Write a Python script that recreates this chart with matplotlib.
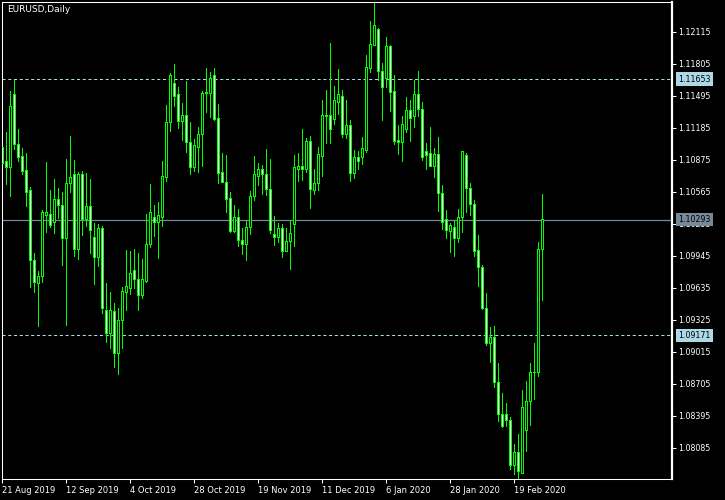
import matplotlib
matplotlib.use("Agg")
import matplotlib.pyplot as plt
from matplotlib.patches import Rectangle

# ---- data (EURUSD daily) ----
opens = [
    1.10996, 1.10851, 1.10793, 1.11500, 1.11025, 1.10909, 1.10773, 1.10570, 1.09901, 1.09669,
    1.09737, 1.10337, 1.10347, 1.10260, 1.10483, 1.10434, 1.10105, 1.10647, 1.10725, 1.10008,
    1.10734, 1.10298, 1.10415, 1.10124, 1.09930, 1.10202, 1.09417, 1.09194, 1.09407, 1.09000,
    1.09320, 1.09591, 1.09630, 1.09795, 1.09708, 1.09562, 1.09698, 1.10056, 1.10318, 1.10260,
    1.10318, 1.10705, 1.11238, 1.11616, 1.11500, 1.11248, 1.11306, 1.11044, 1.10793, 1.10996,
    1.11122, 1.11519, 1.11519, 1.11693, 1.11277, 1.10754, 1.10657, 1.10502, 1.10182, 1.10318,
    1.10095, 1.10056, 1.10221, 1.10521, 1.10715, 1.10783, 1.10734, 1.10589, 1.10153, 1.10124,
    1.10202, 1.09988, 1.10085, 1.10250, 1.10783, 1.10812, 1.10783, 1.11054, 1.10570, 1.10638,
    1.10909, 1.11296, 1.11306, 1.11267, 1.11432, 1.11490, 1.11122, 1.11209, 1.10744, 1.10899,
    1.10899, 1.10967, 1.11752, 1.11984, 1.12139, 1.11732, 1.11655, 1.11965, 1.11538, 1.11064,
    1.11044, 1.11170, 1.11345, 1.11287, 1.11500, 1.11364, 1.10948, 1.10938, 1.10812, 1.10928,
    1.10550, 1.10298, 1.10182, 1.10221, 1.10105, 1.10318, 1.10918, 1.10599, 1.10444, 1.09998,
    1.09833, 1.09427, 1.09097, 1.09155, 1.08719, 1.08409, 1.08400, 1.08351, 1.07906, 1.08041,
    1.07838, 1.08245, 1.08526, 1.08816, 1.08816, 1.10008]

highs = [
    1.11064, 1.11141, 1.11538, 1.11645, 1.11170, 1.10986, 1.10938, 1.10608, 1.09969, 1.09795,
    1.10386, 1.10851, 1.10579, 1.10686, 1.10599, 1.10560, 1.10880, 1.11103, 1.10870, 1.10754,
    1.10763, 1.10744, 1.10686, 1.10260, 1.10250, 1.10231, 1.09678, 1.09591, 1.09485, 1.09436,
    1.09640, 1.09998, 1.09988, 1.10008, 1.09969, 1.09911, 1.10347, 1.10638, 1.10434, 1.10463,
    1.10860, 1.11403, 1.11713, 1.11800, 1.11577, 1.11422, 1.11635, 1.11238, 1.11073, 1.11190,
    1.11538, 1.11761, 1.11723, 1.11761, 1.11413, 1.10938, 1.10918, 1.10560, 1.10434, 1.10395,
    1.10211, 1.10279, 1.10570, 1.10909, 1.10841, 1.10822, 1.10977, 1.10880, 1.10328, 1.10260,
    1.10250, 1.10211, 1.10289, 1.10918, 1.10938, 1.11170, 1.11083, 1.11103, 1.10783, 1.10996,
    1.11451, 1.11548, 1.12003, 1.11587, 1.11752, 1.11548, 1.11451, 1.11258, 1.10967, 1.10957,
    1.11093, 1.11887, 1.12217, 1.12391, 1.12149, 1.11810, 1.12062, 1.11984, 1.11693, 1.11209,
    1.11296, 1.11480, 1.11451, 1.11645, 1.11732, 1.11432, 1.11035, 1.11190, 1.10986, 1.11093,
    1.10628, 1.10386, 1.10260, 1.10289, 1.10395, 1.10957, 1.10938, 1.10647, 1.10483, 1.10143,
    1.09853, 1.09582, 1.09252, 1.09262, 1.08903, 1.08613, 1.08516, 1.08380, 1.08119, 1.08216,
    1.08642, 1.08729, 1.08903, 1.09097, 1.10076, 1.10541]

lows = [
    1.10812, 1.10628, 1.10512, 1.10967, 1.10851, 1.10725, 1.10415, 1.09630, 1.09582, 1.09252,
    1.09678, 1.10163, 1.10211, 1.10153, 1.10298, 1.09843, 1.09262, 1.10550, 1.09930, 1.09901,
    1.10134, 1.10221, 1.09959, 1.09659, 1.09833, 1.09378, 1.09097, 1.09039, 1.08855, 1.08787,
    1.09039, 1.09407, 1.09562, 1.09620, 1.09407, 1.09523, 1.09678, 1.10018, 1.10124, 1.09911,
    1.10221, 1.10657, 1.11141, 1.11383, 1.11170, 1.11054, 1.10938, 1.10725, 1.10754, 1.10744,
    1.10802, 1.11325, 1.11277, 1.11248, 1.10638, 1.10647, 1.10357, 1.10163, 1.10163, 1.10027,
    1.09950, 1.09892, 1.10143, 1.10473, 1.10618, 1.10531, 1.10521, 1.10153, 1.10037, 1.10066,
    1.09921, 1.09979, 1.09804, 1.10027, 1.10657, 1.10667, 1.10744, 1.10395, 1.10531, 1.10570,
    1.10705, 1.11025, 1.11025, 1.11209, 1.11306, 1.11083, 1.11073, 1.10657, 1.10686, 1.10773,
    1.10822, 1.10938, 1.11713, 1.11974, 1.11635, 1.11248, 1.11568, 1.11335, 1.11015, 1.10918,
    1.10851, 1.11132, 1.11044, 1.11180, 1.11287, 1.10860, 1.10773, 1.10802, 1.10696, 1.10366,
    1.10192, 1.10105, 1.09969, 1.09930, 1.10066, 1.10163, 1.10357, 1.10328, 1.09930, 1.09640,
    1.09417, 1.09068, 1.08903, 1.08661, 1.08332, 1.08274, 1.08283, 1.07867, 1.07818, 1.07780,
    1.07828, 1.08041, 1.08293, 1.08545, 1.08768, 1.09504]

closes = [
    1.10841, 1.10793, 1.11393, 1.11025, 1.10899, 1.10763, 1.10560, 1.09901, 1.09688, 1.09737,
    1.10357, 1.10357, 1.10240, 1.10483, 1.10434, 1.10105, 1.10647, 1.10705, 1.10008, 1.10734,
    1.10298, 1.10415, 1.10192, 1.09930, 1.10202, 1.09427, 1.09194, 1.09417, 1.09000, 1.09320,
    1.09601, 1.09640, 1.09775, 1.09708, 1.09562, 1.09717, 1.10056, 1.10366, 1.10260, 1.10328,
    1.10715, 1.11238, 1.11693, 1.11490, 1.11248, 1.11306, 1.11044, 1.10802, 1.11006, 1.11122,
    1.11519, 1.11522, 1.11655, 1.11267, 1.10744, 1.10657, 1.10492, 1.10182, 1.10318, 1.10095,
    1.10056, 1.10221, 1.10521, 1.10725, 1.10783, 1.10725, 1.10589, 1.10192, 1.10124, 1.10202,
    1.09988, 1.10085, 1.10163, 1.10793, 1.10812, 1.10783, 1.11054, 1.10589, 1.10638, 1.10928,
    1.11306, 1.11306, 1.11170, 1.11442, 1.11500, 1.11122, 1.11209, 1.10744, 1.10899, 1.10851,
    1.10986, 1.11771, 1.11994, 1.12178, 1.11723, 1.11568, 1.11974, 1.11529, 1.11054, 1.11044,
    1.11219, 1.11345, 1.11277, 1.11500, 1.11364, 1.10899, 1.10918, 1.10812, 1.10928, 1.10550,
    1.10260, 1.10192, 1.10231, 1.10105, 1.10318, 1.10948, 1.10599, 1.10444, 1.09988, 1.09833,
    1.09427, 1.09097, 1.09155, 1.08719, 1.08409, 1.08293, 1.08342, 1.07906, 1.08041, 1.07848,
    1.08477, 1.08526, 1.08816, 1.08807, 1.10008, 1.10293]

date_labels = ["21 Aug 2019", "12 Sep 2019", "4 Oct 2019", "28 Oct 2019", "19 Nov 2019",
               "11 Dec 2019", "6 Jan 2020", "28 Jan 2020", "19 Feb 2020"]
price_ticks = [1.12115, 1.11805, 1.11495, 1.11185, 1.10875, 1.10565, 1.10255,
               1.09945, 1.09635, 1.09325, 1.09015, 1.08705, 1.08395, 1.08085]
level_upper = 1.11653
level_lower = 1.09171
last_price = 1.10293
title = "EURUSD,Daily"

# ---- styling ----
GREEN = "#00ff00"
W, H = 725, 500
fig = plt.figure(figsize=(W / 100, H / 100), dpi=100, facecolor="black")
left_px, right_px, top_px, bot_px = 2.3, 672.0, 2.3, 479.3
ax = fig.add_axes([left_px / W, (H - bot_px) / H, (right_px - left_px) / W, (bot_px - top_px) / H])
ax.set_facecolor("black")

n = len(opens)
x_max = (right_px - left_px) / 4.0
y_lo, y_hi = 1.07777, 1.12398
ax.set_xlim(-0.05, x_max)
ax.set_ylim(y_lo, y_hi)

# one screen pixel in data units
px_x = x_max / (right_px - left_px)
px_y = (y_hi - y_lo) / (bot_px - top_px)

# reference lines
ax.axhline(level_upper, color="lightblue", lw=0.75, ls=(0, (3, 2.5)), zorder=1)
ax.axhline(level_lower, color="lightblue", lw=0.75, ls=(0, (3, 2.5)), zorder=1)
ax.axhline(last_price, color="lightslategray", lw=0.9, zorder=1)

# candles: 1px wick, 3px body with 1px green outline and 1px fill column
for i in range(n):
    o, h, l, c = opens[i], highs[i], lows[i], closes[i]
    ax.add_patch(Rectangle((i - 0.5 * px_x, l), px_x, h - l, facecolor=GREEN,
                           edgecolor="none", zorder=2, antialiased=False))
    lo_b, hi_b = min(o, c), max(o, c)
    ax.add_patch(Rectangle((i - 1.5 * px_x, lo_b - 0.5 * px_y), 3 * px_x, hi_b - lo_b + px_y,
                           facecolor=GREEN, edgecolor="none", zorder=3, antialiased=False))
    if hi_b - lo_b > 1.2 * px_y:
        ax.add_patch(Rectangle((i - 0.5 * px_x, lo_b + 0.5 * px_y), px_x, hi_b - lo_b - px_y,
                               facecolor="black" if c >= o else "white",
                               edgecolor="none", zorder=4, antialiased=False))

# spines
for s in ["top", "left", "bottom"]:
    ax.spines[s].set_color("white")
    ax.spines[s].set_linewidth(0.75)
ax.spines["right"].set_color("white")
ax.spines["right"].set_linewidth(1.6)

# y axis (right)
ax.yaxis.tick_right()
ax.set_yticks(price_ticks)
ax.set_yticklabels([f"{p:.5f}" for p in price_ticks])
ax.tick_params(axis="y", colors="white", labelsize=5.7, length=3, width=0.75, pad=1.2)

# x axis
ax.set_xticks(list(range(0, 16 * len(date_labels), 16)))
ax.set_xticklabels(date_labels)
for lab in ax.get_xticklabels():
    lab.set_horizontalalignment("left")
ax.tick_params(axis="x", colors="white", labelsize=6, length=3, width=0.75, pad=1.5)

# highlighted price labels
ytr = ax.get_yaxis_transform()
xlab = 1.0 + (678 - right_px) / (right_px - left_px)
for val, fc in [(level_upper, "lightblue"), (last_price, "lightslategray"), (level_lower, "lightblue")]:
    ax.text(xlab, val, f"{val:.5f}", transform=ytr, fontsize=5.7, color="black",
            va="center", ha="left", clip_on=False, zorder=10,
            bbox=dict(boxstyle="square,pad=0.3", fc=fc, ec="none"))

fig.text(7 / W, 1 - 10 / H, title, color="white", fontsize=6.5, va="center", ha="left")

fig.savefig("out.png", dpi=100, facecolor="black")
